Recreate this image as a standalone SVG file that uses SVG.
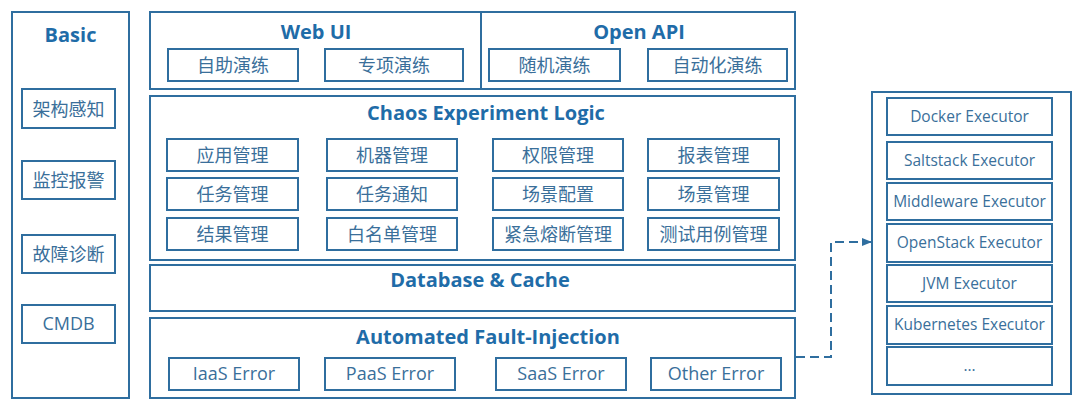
<svg xmlns="http://www.w3.org/2000/svg" width="1080" height="413" viewBox="0 0 1080 413">
<defs>
<style>
.panel{fill:#fff;stroke:#2f6e9f;stroke-width:2}
.box{fill:#fff;stroke:#2f6e9f;stroke-width:2}
text{dominant-baseline:central;text-anchor:middle}
.title{font-family:"Open Sans","Noto Sans","Liberation Sans",sans-serif;font-weight:bold;font-size:20px;fill:#1f6ca8}
.cn{font-family:"Noto Sans CJK SC","Noto Sans",sans-serif;font-size:18px;fill:#3a6f9a}
.en{font-family:"Open Sans","Noto Sans","Liberation Sans",sans-serif;font-size:18px;fill:#3a6f9a}
.ex{font-family:"Open Sans","Noto Sans","Liberation Sans",sans-serif;font-size:15.5px;fill:#3a6f9a}
.conn{fill:none;stroke:#2f6e9f;stroke-width:2;stroke-dasharray:9 5}
</style>
<marker id="arr" markerWidth="10" markerHeight="10" refX="9" refY="5" orient="auto" markerUnits="userSpaceOnUse">
<path d="M0,1 L10,5 L0,9 Z" fill="#2f6e9f"/>
</marker>
</defs>
<rect width="1080" height="413" fill="#fff"/>

<g id="basic">
<rect class="panel" x="12" y="12" width="117" height="386"/>
<text class="title" x="70.5" y="34">Basic</text>
<rect class="box" x="22" y="89" width="93" height="39"/><text class="cn" x="68.5" y="107.5">架构感知</text>
<rect class="box" x="22" y="161" width="93" height="38"/><text class="cn" x="68.5" y="179">监控报警</text>
<rect class="box" x="22" y="235" width="93" height="38"/><text class="cn" x="68.5" y="253">故障诊断</text>
<rect class="box" x="22" y="305" width="93" height="38"/><text class="en" x="68.5" y="323">CMDB</text>
</g>

<g id="webui">
<rect class="panel" x="150" y="12" width="331" height="77"/>
<text class="title" x="316" y="31">Web UI</text>
<rect class="box" x="168" y="49" width="130" height="32"/><text class="cn" x="233" y="64">自助演练</text>
<rect class="box" x="325" y="49" width="138" height="32"/><text class="cn" x="394" y="64">专项演练</text>
</g>

<g id="openapi">
<rect class="panel" x="481" y="12" width="314" height="77"/>
<text class="title" x="639" y="31">Open API</text>
<rect class="box" x="489" y="49" width="131" height="32"/><text class="cn" x="554.5" y="64">随机演练</text>
<rect class="box" x="648" y="49" width="139" height="32"/><text class="cn" x="717.5" y="64">自动化演练</text>
</g>

<g id="chaos">
<rect class="panel" x="150" y="96" width="645" height="164"/>
<text class="title" x="486" y="112">Chaos Experiment Logic</text>
<rect class="box" x="167" y="139" width="131" height="32"/><text class="cn" x="232.5" y="154">应用管理</text>
<rect class="box" x="327" y="139" width="130" height="32"/><text class="cn" x="392" y="154">机器管理</text>
<rect class="box" x="493" y="139" width="130" height="32"/><text class="cn" x="558" y="154">权限管理</text>
<rect class="box" x="648" y="139" width="131" height="32"/><text class="cn" x="713.5" y="154">报表管理</text>
<rect class="box" x="167" y="178" width="131" height="32"/><text class="cn" x="232.5" y="193">任务管理</text>
<rect class="box" x="327" y="178" width="130" height="32"/><text class="cn" x="392" y="193">任务通知</text>
<rect class="box" x="493" y="178" width="130" height="32"/><text class="cn" x="558" y="193">场景配置</text>
<rect class="box" x="648" y="178" width="131" height="32"/><text class="cn" x="713.5" y="193">场景管理</text>
<rect class="box" x="167" y="218" width="131" height="32"/><text class="cn" x="232.5" y="233">结果管理</text>
<rect class="box" x="327" y="218" width="130" height="32"/><text class="cn" x="392" y="233">白名单管理</text>
<rect class="box" x="493" y="218" width="130" height="32"/><text class="cn" x="558" y="233">紧急熔断管理</text>
<rect class="box" x="648" y="218" width="131" height="32"/><text class="cn" x="713.5" y="233">测试用例管理</text>
</g>

<g id="database">
<rect class="panel" x="150" y="265" width="645" height="46"/>
<text class="title" x="480" y="279">Database &amp; Cache</text>
</g>

<g id="fault">
<rect class="panel" x="150" y="318" width="645" height="80"/>
<text class="title" x="488" y="336">Automated Fault-Injection</text>
<rect class="box" x="169" y="358" width="130" height="32"/><text class="en" x="234" y="373">IaaS Error</text>
<rect class="box" x="325" y="358" width="130" height="32"/><text class="en" x="390" y="373">PaaS Error</text>
<rect class="box" x="496" y="358" width="130" height="32"/><text class="en" x="561" y="373">SaaS Error</text>
<rect class="box" x="651" y="358" width="130" height="32"/><text class="en" x="716" y="373">Other Error</text>
</g>

<g id="executors">
<rect class="panel" x="872" y="92" width="199" height="302"/>
<rect class="box" x="887" y="98" width="165" height="37"/><text class="ex" x="969.5" y="115.5">Docker Executor</text>
<rect class="box" x="887" y="142" width="165" height="37"/><text class="ex" x="969.5" y="159.5">Saltstack Executor</text>
<rect class="box" x="887" y="183" width="165" height="37"/><text class="ex" x="969.5" y="200.5">Middleware Executor</text>
<rect class="box" x="887" y="224" width="165" height="38"/><text class="ex" x="969.5" y="242">OpenStack Executor</text>
<rect class="box" x="887" y="265" width="165" height="37"/><text class="ex" x="969.5" y="282.5">JVM Executor</text>
<rect class="box" x="887" y="306" width="165" height="38"/><text class="ex" x="969.5" y="324">Kubernetes Executor</text>
<rect class="box" x="887" y="347" width="165" height="38"/><text class="ex" x="969.5" y="365">...</text>
</g>

<g id="connectors">
<path class="conn" d="M796,357 H831 V242 H871" marker-end="url(#arr)"/>
</g>
</svg>
